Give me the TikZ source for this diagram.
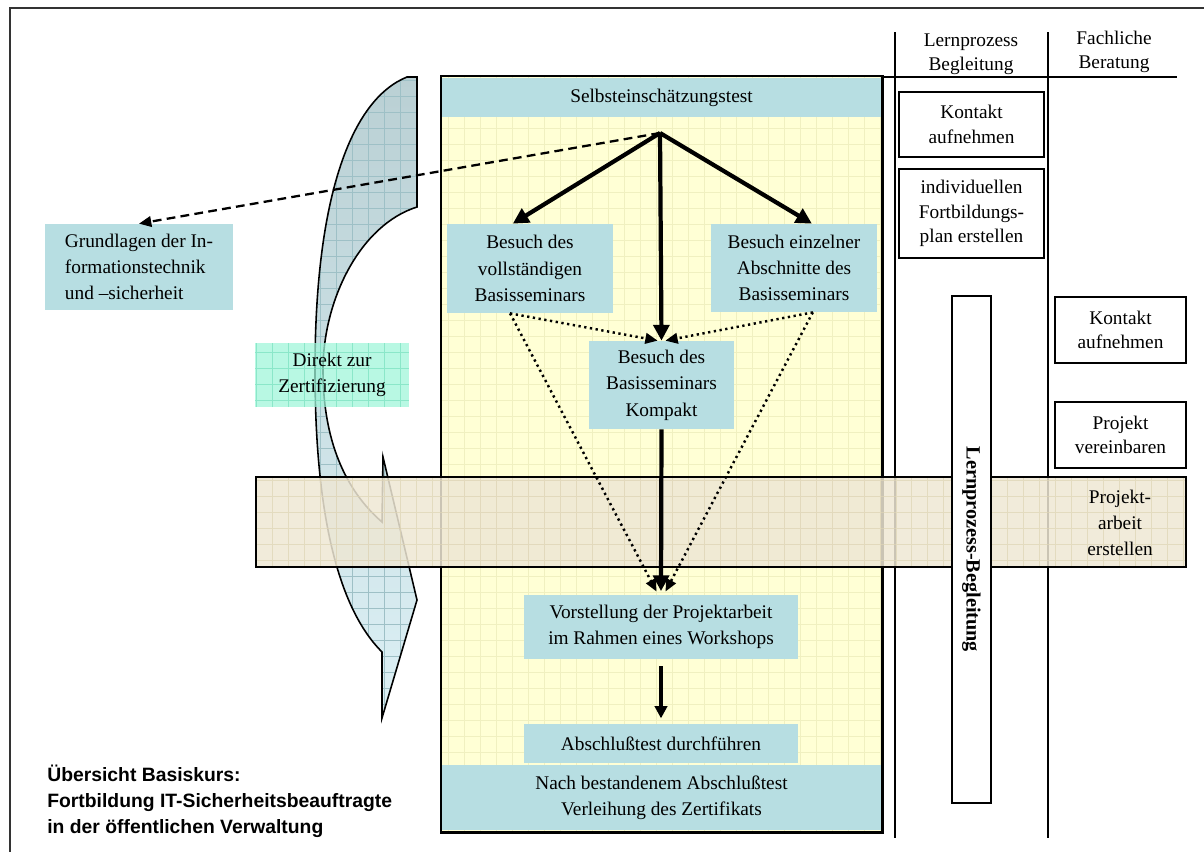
\documentclass[tikz,border=0pt]{standalone}
\usepackage{fontspec}
\setmainfont{Liberation Serif}
\newfontfamily\titlesans{Liberation Sans}
\usetikzlibrary{arrows.meta,positioning}

\definecolor{seminarblue}{RGB}{183,222,226}
\definecolor{paleyellow}{RGB}{255,255,213}
\definecolor{yellowgrid}{RGB}{240,240,192}
\definecolor{projbeige}{RGB}{238,231,212}
\definecolor{beigegrid}{RGB}{222,212,180}
\definecolor{direktgreen}{RGB}{160,245,218}
\definecolor{greengrid}{RGB}{110,220,185}
\definecolor{arrowtop}{RGB}{186,208,212}
\definecolor{arrowbottom}{RGB}{220,240,245}
\definecolor{arrowgrid}{RGB}{158,192,198}

% Umriss des gebogenen Pfeils "Direkt zur Zertifizierung"
\newcommand\direktpfeil{(407,77) -- (417,77) -- (417,207)
  .. controls (360,225) and (323,300) .. (323,370)
  .. controls (323,440) and (345,490) .. (382,522)
  -- (383,457) -- (417,600) -- (382,718) -- (382,652)
  .. controls (340,610) and (315,520) .. (315,370)
  .. controls (315,200) and (350,100) .. (407,77) -- cycle}

\begin{document}
\begin{tikzpicture}[x=0.02cm, y=-0.02cm,
  every node/.style={font=\fontsize{11}{15}\selectfont, align=center, inner sep=0pt},
  sz/.style 2 args={minimum width=#1*0.02cm, minimum height=#2*0.02cm},
  bluebox/.style={fill=seminarblue},
  stepbox/.style={draw, line width=1.1pt, fill=white, font=\fontsize{11}{14}\selectfont},
  flow/.style={-{Triangle[length=9pt,width=9pt]}, line width=2.4pt},
  smallflow/.style={-{Triangle[length=7pt,width=7pt]}, line width=2pt},
  dashflow/.style={-{Triangle[length=7pt,width=6pt]}, line width=1.3pt, dash pattern=on 5pt off 3pt},
  dotflow/.style={-{Triangle[length=7pt,width=6pt]}, line width=1.4pt, dash pattern=on 1.3pt off 2pt}
]
\useasboundingbox (0,852) rectangle (1204,0);
\draw[line width=1pt, black!80] (10,8) rectangle (1214,862);

% gebogener Pfeil
\shade[top color=arrowtop, bottom color=arrowbottom] \direktpfeil;
\begin{scope}
  \clip \direktpfeil;
  \draw[arrowgrid, line width=0.3pt, step=0.32cm] (300,730) grid (430,70);
\end{scope}
\draw[line width=0.9pt] \direktpfeil;

% Kursrahmen
\fill[paleyellow] (441,76) rectangle (882,832);
\begin{scope}
  \clip (441,76) rectangle (882,832);
  \draw[yellowgrid, line width=0.4pt, step=0.32cm] (441,832) grid (882,76);
\end{scope}
\node[bluebox, sz={439}{39}] (selbst) at (661.5,97.5) {Selbsteinschätzungstest};
\node[bluebox, sz={439}{65}] (zert) at (661.5,797.5) {Nach bestandenem Abschlußtest\\Verleihung des Zertifikats};
\draw[line width=1.7pt] (441,76) rectangle (882,832);

\node[bluebox, sz={166}{89}] (vollst) at (530,268.5) {Besuch des\\vollständigen\\Basisseminars};
\node[bluebox, sz={166}{88}] (einzeln) at (794,268) {Besuch einzelner\\Abschnitte des\\Basisseminars};
\node[bluebox, sz={145}{88}] (kompakt) at (661.5,385) {Besuch des\\Basisseminars\\Kompakt};
\node[bluebox, sz={274}{64}] (vorst) at (661,627) {Vorstellung der Projektarbeit\\im Rahmen eines Workshops};
\node[bluebox, sz={274}{39}] (absch) at (661,743.5) {Abschlußtest durchführen};
\node[bluebox, sz={188}{86}, align=left] (grund) at (139,267) {Grundlagen der In-\\formationstechnik\\und –sicherheit};

% Spalten rechts
\draw[line width=0.9pt] (895,32) -- (895,838);
\draw[line width=0.9pt] (1048,32) -- (1048,838);
\draw[line width=0.9pt] (882,77) -- (1177,77);
\node[font=\fontsize{11}{13.6}\selectfont] (hdlern) at (971,54) {Lernprozess\\Begleitung};
\node[font=\fontsize{11}{13.6}\selectfont] (hdfach) at (1114,52) {Fachliche\\Beratung};
\node[stepbox, sz={145}{65}] (kontakta) at (971.5,124.5) {Kontakt\\aufnehmen};
\node[stepbox, sz={145}{89}] (indiv) at (971.5,213.5) {individuellen\\Fortbildungs-\\plan erstellen};
\node[stepbox, sz={131}{66}] (kontaktb) at (1120.5,330) {Kontakt\\aufnehmen};
\node[stepbox, sz={131}{66}] (vereinb) at (1120.5,435) {Projekt\\vereinbaren};

% Band Projektarbeit
\fill[projbeige, opacity=0.85] (256,477) rectangle (1186,567);
\begin{scope}
  \clip (256,477) rectangle (1186,567);
  \draw[beigegrid, line width=0.4pt, step=0.32cm, opacity=0.7] (256,567) grid (1186,477);
\end{scope}
\draw[line width=1pt] (256,477) rectangle (1186,567);
\node (projarb) at (1120,523) {Projekt-\\arbeit\\erstellen};

% Direkt zur Zertifizierung
\fill[direktgreen, opacity=0.75] (255,343) rectangle (409,407);
\begin{scope}
  \clip (255,343) rectangle (409,407);
  \draw[greengrid, line width=0.4pt, step=0.32cm, opacity=0.6] (255,407) grid (409,343);
\end{scope}
\node[sz={154}{64}] (direkt) at (332,375) {Direkt zur\\Zertifizierung};

% Pfeile
\coordinate (hub) at (660,133);
\draw[dashflow] (hub) -- (grund.north);
\draw[flow] (hub) -- (vollst.111);
\draw[flow] (hub) -- (kompakt.north);
\draw[flow] (hub) -- (einzeln.68);
\draw[dotflow] (vollst.246) -- (kompakt.95);
\draw[dotflow] (einzeln.293) -- (kompakt.85);
\draw[dotflow, shorten >=2pt] (vollst.246) -- (vorst.95);
\draw[dotflow, shorten >=2pt] (einzeln.293) -- (vorst.85);
\draw[flow, shorten >=2pt] (kompakt.south) -- (vorst.north);
\draw[smallflow, shorten <=4pt, shorten >=3pt] (vorst.south) -- (absch.north);

% Lernprozess-Begleitung
\node[draw, line width=1.1pt, fill=white, rotate=-90, sz={507}{39},
  font=\fontsize{11.5}{14}\selectfont\bfseries] (begleit) at (971.5,549.5) {Lernprozess-Begleitung};

\node[anchor=west, align=left, font=\fontsize{11}{14.7}\selectfont\titlesans\bfseries] (titel) at (47,801)
  {Übersicht Basiskurs:\\Fortbildung IT-Sicherheitsbeauftragte\\in der öffentlichen Verwaltung};
\end{tikzpicture}
\end{document}
